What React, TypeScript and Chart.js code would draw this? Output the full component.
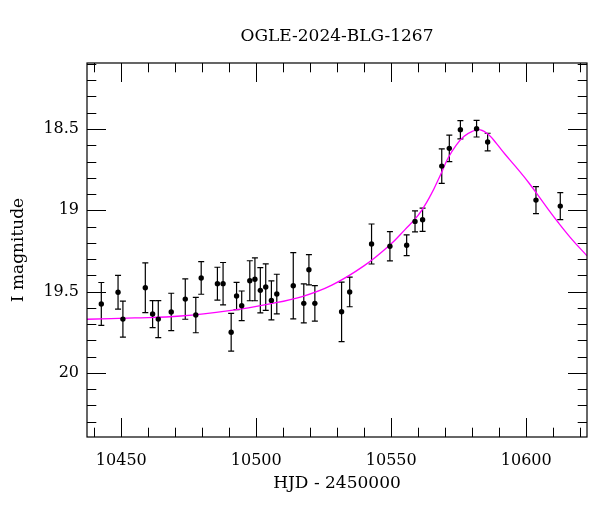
import { useEffect, useRef } from 'react';
import { Chart, registerables } from 'chart.js';

Chart.register(...registerables);

const chartTitle = 'OGLE-2024-BLG-1267';
const xAxisTitle = 'HJD - 2450000';
const yAxisTitle = 'I magnitude';

const xMajorTicks = [10450, 10500, 10550, 10600];
const yMajorTicks = [18.5, 19, 19.5, 20];
const xMinorStep = 10;
const yMinorStep = 0.1;
const xMin = 10437.3;
const xMax = 10622.5;
const yMin = 18.094;
const yMax = 20.394;

const obsHJD = [
  10442.6, 10448.8, 10450.6, 10458.9, 10461.6, 10463.7, 10468.5, 10473.7, 10477.6, 10479.6,
  10485.6, 10487.7, 10490.7, 10492.7, 10494.6, 10497.6, 10499.5, 10501.5, 10503.5, 10505.6,
  10507.6, 10513.7, 10517.6, 10519.5, 10521.7, 10531.6, 10534.6, 10542.7, 10549.5, 10555.7,
  10558.8, 10561.6, 10568.7, 10571.5, 10575.6, 10581.6, 10585.7, 10603.6, 10612.6,
];
const obsMag = [
  19.576, 19.504, 19.669, 19.476, 19.638, 19.669, 19.625, 19.546, 19.644, 19.416,
  19.451, 19.451, 19.750, 19.527, 19.587, 19.433, 19.424, 19.492, 19.472, 19.554,
  19.515, 19.464, 19.572, 19.365, 19.572, 19.624, 19.502, 19.207, 19.221, 19.215,
  19.068, 19.058, 18.728, 18.619, 18.504, 18.498, 18.580, 18.937, 18.974,
];
const obsErr = [
  0.132, 0.104, 0.111, 0.153, 0.083, 0.114, 0.115, 0.124, 0.109, 0.100,
  0.101, 0.130, 0.116, 0.084, 0.091, 0.123, 0.132, 0.139, 0.143, 0.120,
  0.122, 0.204, 0.120, 0.093, 0.109, 0.183, 0.091, 0.123, 0.090, 0.064,
  0.065, 0.072, 0.106, 0.081, 0.056, 0.051, 0.054, 0.083, 0.083,
];

const modelHJD = [
  10437.3, 10455, 10472, 10490, 10505, 10517, 10528, 10540, 10549.5, 10555,
  10560, 10564.5, 10568, 10571, 10574, 10577, 10580, 10583, 10586, 10589,
  10592, 10596, 10601, 10607, 10612, 10617, 10622.5,
];
const modelMag = [
  19.670, 19.662, 19.650, 19.617, 19.575, 19.530, 19.460, 19.340, 19.213, 19.120,
  19.030, 18.910, 18.790, 18.680, 18.600, 18.545, 18.514, 18.505, 18.533, 18.590,
  18.652, 18.730, 18.832, 18.968, 19.078, 19.180, 19.280,
];

const FONT = "'DejaVu Serif', serif";

const errorBarPlugin = {
  id: 'errorBars',
  beforeDatasetsDraw(chart: any) {
    const { ctx, scales } = chart;
    const x = scales.x;
    const y = scales.y;
    ctx.save();
    ctx.beginPath();
    const ca = chart.chartArea;
    ctx.rect(ca.left, ca.top, ca.right - ca.left, ca.bottom - ca.top);
    ctx.clip();
    ctx.strokeStyle = '#000';
    ctx.lineWidth = 1.2;
    const cap = 3;
    for (let i = 0; i < obsHJD.length; i++) {
      const px = x.getPixelForValue(obsHJD[i]);
      const p1 = y.getPixelForValue(obsMag[i] - obsErr[i]);
      const p2 = y.getPixelForValue(obsMag[i] + obsErr[i]);
      ctx.beginPath();
      ctx.moveTo(px, p1);
      ctx.lineTo(px, p2);
      ctx.moveTo(px - cap, p1);
      ctx.lineTo(px + cap, p1);
      ctx.moveTo(px - cap, p2);
      ctx.lineTo(px + cap, p2);
      ctx.stroke();
    }
    ctx.restore();
  },
};

const framePlugin = {
  id: 'frameTicks',
  afterDraw(chart: any) {
    const { ctx, chartArea, scales } = chart;
    const { left, right, top, bottom } = chartArea;
    const x = scales.x;
    const y = scales.y;
    ctx.save();
    ctx.strokeStyle = '#000';
    ctx.lineWidth = 1.2;
    ctx.strokeRect(left, top, right - left, bottom - top);
    ctx.lineWidth = 1;
    const majLen = 19;
    const minLen = 9.3;
    ctx.beginPath();
    const xi0 = Math.ceil(x.min / xMinorStep - 1e-9);
    const xi1 = Math.floor(x.max / xMinorStep + 1e-9);
    for (let i = xi0; i <= xi1; i++) {
      const v = i * xMinorStep;
      const major = xMajorTicks.some((t) => Math.abs(t - v) < 1e-6);
      const len = major ? majLen : minLen;
      const px = Math.round(x.getPixelForValue(v)) + 0.5;
      ctx.moveTo(px, bottom);
      ctx.lineTo(px, bottom - len);
      ctx.moveTo(px, top);
      ctx.lineTo(px, top + len);
    }
    const yi0 = Math.ceil(y.min / yMinorStep - 1e-9);
    const yi1 = Math.floor(y.max / yMinorStep + 1e-9);
    for (let i = yi0; i <= yi1; i++) {
      const v = i * yMinorStep;
      const major = yMajorTicks.some((t) => Math.abs(t - v) < 1e-6);
      const len = major ? majLen : minLen;
      const py = Math.round(y.getPixelForValue(v)) + 0.5;
      ctx.moveTo(left, py);
      ctx.lineTo(left + len, py);
      ctx.moveTo(right, py);
      ctx.lineTo(right - len, py);
    }
    ctx.stroke();
    ctx.restore();
  },
};

export default function App() {
  const canvasRef = useRef<HTMLCanvasElement | null>(null);

  useEffect(() => {
    if (!canvasRef.current) return;
    Chart.defaults.color = '#000';
    const points = obsHJD.map((h, i) => ({ x: h, y: obsMag[i] }));
    const model = modelHJD.map((h, i) => ({ x: h, y: modelMag[i] }));
    const chart = new Chart(canvasRef.current, {
      type: 'scatter',
      data: {
        datasets: [
          {
            label: 'OGLE data',
            data: points,
            backgroundColor: '#000',
            borderColor: '#000',
            pointRadius: 2.7,
            pointBorderWidth: 0,
            showLine: false,
          },
          {
            label: 'model',
            data: model,
            showLine: true,
            borderColor: '#ff00ff',
            borderWidth: 1.3,
            pointRadius: 0,
            tension: 0.4,
            fill: false,
          },
        ],
      },
      options: {
        responsive: false,
        animation: false,
        devicePixelRatio: 1,
        layout: { padding: { left: 0, right: 13, top: 0, bottom: 0 } },
        plugins: {
          legend: { display: false },
          tooltip: { enabled: false },
          title: {
            display: true,
            text: chartTitle,
            fullSize: false,
            color: '#000',
            font: { family: FONT, size: 17, weight: 'normal' },
            padding: { top: 26.5, bottom: 16.1 },
          },
        },
        scales: {
          x: {
            type: 'linear',
            position: 'bottom',
            min: xMin,
            max: xMax,
            grid: { display: false, drawTicks: false },
            border: { display: false },
            afterBuildTicks: (scale: any) => {
              scale.ticks = xMajorTicks.map((v) => ({ value: v }));
            },
            afterFit: (scale: any) => {
              scale.height = 75;
            },
            ticks: {
              color: '#000',
              padding: 14,
              maxRotation: 0,
              font: { family: FONT, size: 16 },
              callback: (v: any) => String(v),
            },
            title: {
              display: true,
              text: xAxisTitle,
              color: '#000',
              font: { family: FONT, size: 17 },
              padding: { top: 0, bottom: 18.5 },
            },
          },
          y: {
            type: 'linear',
            position: 'left',
            reverse: true,
            min: yMin,
            max: yMax,
            grid: { display: false, drawTicks: false },
            border: { display: false },
            afterBuildTicks: (scale: any) => {
              scale.ticks = yMajorTicks.map((v) => ({ value: v }));
            },
            afterFit: (scale: any) => {
              scale.width = 87;
            },
            ticks: {
              color: '#000',
              padding: 8,
              font: { family: FONT, size: 16 },
              callback: (v: any) => String(v),
            },
            title: {
              display: true,
              text: yAxisTitle,
              color: '#000',
              font: { family: FONT, size: 17 },
              padding: { top: 8.8, bottom: 0 },
            },
          },
        },
      },
      plugins: [errorBarPlugin, framePlugin],
    } as any);
    return () => chart.destroy();
  }, []);

  return (
    <div style={{ position: 'fixed', left: 0, top: 0, width: 600, height: 512, background: '#fff' }}>
      <canvas ref={canvasRef} width={600} height={512} style={{ width: 600, height: 512 }} />
    </div>
  );
}
